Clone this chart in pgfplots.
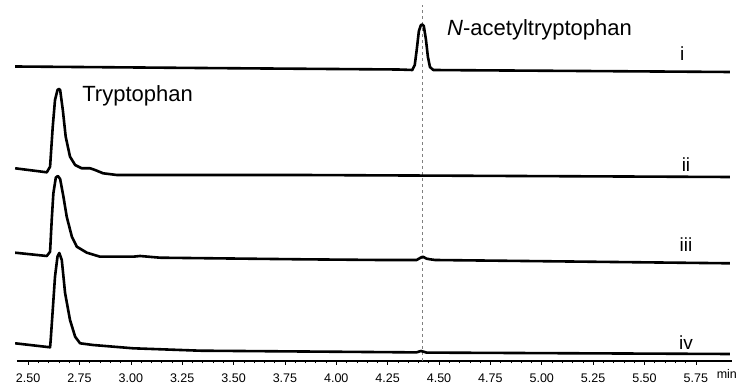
\documentclass[border=0pt]{standalone}
\usepackage{pgfplots}
\pgfplotsset{compat=1.18}
\usepackage{fontspec}
\setmainfont{Liberation Sans}
\begin{document}
\begin{tikzpicture}[x=1pt,y=1pt]
\path[use as bounding box] (0,0) rectangle (740,385);
\begin{axis}[
  at={(17pt,24pt)}, anchor=south west,
  width=715pt, height=361pt, scale only axis,
  xmin=2.446, xmax=5.926, ymin=0, ymax=361,
  axis x line=bottom, axis y line=none,
  axis line style={line width=1.3pt, -},
  clip=false,
  xtick={2.5,2.75,3,3.25,3.5,3.75,4,4.25,4.5,4.75,5,5.25,5.5,5.75},
  minor x tick num=4,
  tick align=outside,
  major tick length=4pt, minor tick length=2.5pt,
  tick style={black, line width=0.6pt},
  xticklabel style={font=\fontsize{12.5}{14}\selectfont, anchor=base, inner sep=0pt, yshift=-18pt},
  /pgf/number format/assume math mode=true,
  /pgf/number format/.cd, fixed, fixed zerofill, precision=2,
]
% reference line at the N-acetyltryptophan retention time
\addplot[gray, dashed, line width=0.6pt] coordinates {(4.42,0) (4.42,356)};
% trace i
\addplot[black, line width=2.6pt, line join=round] coordinates {
(2.437,294.5) (3.337,293) (4.300,291.5) (4.370,291) (4.382,296) (4.392,312)
(4.402,330) (4.412,336) (4.419,336.5) (4.426,335) (4.436,322) (4.446,304)
(4.456,294) (4.472,291) (4.600,290.8) (5.200,290) (5.916,289)};
% trace ii
\addplot[black, line width=2.6pt, line join=round] coordinates {
(2.437,192.7) (2.591,188.7) (2.607,194.3) (2.620,234.3) (2.631,261) (2.643,271)
(2.650,272) (2.656,271) (2.669,251) (2.683,224.3) (2.704,204.3) (2.729,196)
(2.761,192.7) (2.802,192.7) (2.826,191) (2.865,187.7) (2.932,186) (3.824,186) (5.916,184)};
% trace iii
\addplot[black, line width=2.6pt, line join=round] coordinates {
(2.437,108.3) (2.591,105) (2.607,109.3) (2.615,141) (2.623,167.7) (2.635,183.5)
(2.645,185) (2.656,182) (2.672,164.3) (2.688,144.3) (2.713,124.3) (2.737,114.3)
(2.786,108.3) (2.850,104.3) (3.011,104.3) (3.045,105) (3.142,103.3) (3.824,101.7)
(4.213,101) (4.391,101) (4.408,103) (4.421,104.3) (4.440,102.3) (4.456,101.7) (4.481,101) (5.916,97.7)};
% trace iv
\addplot[black, line width=2.6pt, line join=round] coordinates {
(2.437,17.7) (2.607,13.7) (2.610,21) (2.620,51) (2.631,84.3) (2.643,104.3)
(2.652,108) (2.664,101) (2.680,68) (2.704,41) (2.729,24.3) (2.753,17.7)
(2.816,16) (3.011,12.7) (3.337,10.3) (4.150,9) (4.390,8.6) (4.412,10) (4.440,8.4) (5.916,7)};
% labels
\node[anchor=base west, font=\fontsize{22}{26}\selectfont, inner sep=0pt] at (axis cs:4.539,325) {\textit{N}-acetyltryptophan};
\node[anchor=base west, font=\fontsize{22}{26}\selectfont, inner sep=0pt] at (axis cs:2.763,259) {Tryptophan};
\node[anchor=base, font=\fontsize{19}{22}\selectfont, inner sep=0pt] at (axis cs:5.684,300) {i};
\node[anchor=base, font=\fontsize{19}{22}\selectfont, inner sep=0pt] at (axis cs:5.702,189) {ii};
\node[anchor=base, font=\fontsize{19}{22}\selectfont, inner sep=0pt] at (axis cs:5.702,109) {iii};
\node[anchor=base, font=\fontsize{19}{22}\selectfont, inner sep=0pt] at (axis cs:5.702,11) {iv};
\node[anchor=base, font=\fontsize{12.5}{14}\selectfont, inner sep=0pt] at (axis cs:5.901,-18) {min};
\end{axis}
\end{tikzpicture}
\end{document}
